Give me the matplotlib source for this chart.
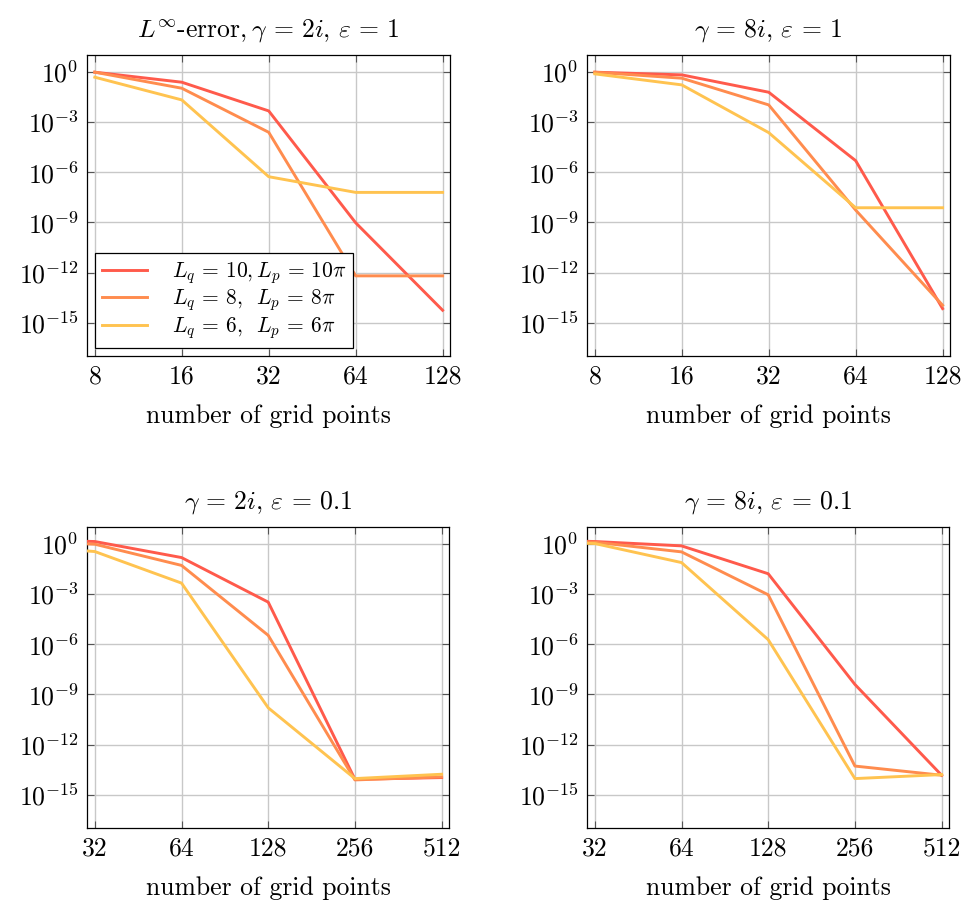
import matplotlib
matplotlib.use("Agg")
import matplotlib.pyplot as plt
from matplotlib.ticker import FixedLocator, FixedFormatter, NullLocator

plt.rcParams['font.family'] = 'serif'
plt.rcParams['font.serif'] = ['cmr10']
plt.rcParams['mathtext.fontset'] = 'cm'
plt.rcParams['axes.formatter.use_mathtext'] = True

# grid sizes
n_top = [8, 16, 32, 64, 128]
n_bot = [16, 32, 64, 128, 256, 512]

# log10 of the L-infinity error
# gamma = 2i, eps = 1
e_2i_1_L10 = [0.0, -0.6, -2.32, -9.02, -14.26]
e_2i_1_L8 = [0.0, -0.96, -3.6, -12.2, -12.2]
e_2i_1_L6 = [-0.3, -1.66, -6.26, -7.2, -7.2]
# gamma = 8i, eps = 1
e_8i_1_L10 = [0.0, -0.16, -1.2, -5.3, -14.16]
e_8i_1_L8 = [0.0, -0.36, -1.96, -8.26, -13.96]
e_8i_1_L6 = [-0.1, -0.76, -3.62, -8.12, -8.12]
# gamma = 2i, eps = 0.1
e_2i_01_L10 = [0.3, 0.16, -0.8, -3.47, -14.08, -13.98]
e_2i_01_L8 = [0.2, 0.0, -1.27, -5.46, -14.12, -13.94]
e_2i_01_L6 = [-0.05, -0.44, -2.33, -9.8, -14.04, -13.78]
# gamma = 8i, eps = 0.1
e_8i_01_L10 = [0.3, 0.16, -0.1, -1.77, -8.4, -13.84]
e_8i_01_L8 = [0.25, 0.12, -0.46, -3.03, -13.29, -13.84]
e_8i_01_L6 = [0.15, 0.04, -1.1, -5.72, -14.04, -13.8]

labels = [r'$L_q\, =\, 10, L_p\, =\, 10\pi\quad$', r'$L_q\, =\, 8,\;\; L_p\, =\, 8\pi$',
          r'$L_q\, =\, 6,\;\; L_p\, =\, 6\pi$']
colors = ['#ff5a4b', '#ff8c4e', '#ffc350']

titles = [r'$L^{\infty}$-error$, \gamma\, =\, 2i,\, \varepsilon\, =\, 1$',
          r'$\gamma\, =\, 8i,\, \varepsilon\, =\, 1$',
          r'$\gamma\, =\, 2i,\, \varepsilon\, =\, 0.1$',
          r'$\gamma\, =\, 8i,\, \varepsilon\, =\, 0.1$']

panels = [
    (n_top, [e_2i_1_L10, e_2i_1_L8, e_2i_1_L6]),
    (n_top, [e_8i_1_L10, e_8i_1_L8, e_8i_1_L6]),
    (n_bot, [e_2i_01_L10, e_2i_01_L8, e_2i_01_L6]),
    (n_bot, [e_8i_01_L10, e_8i_01_L8, e_8i_01_L6]),
]

W, H = 966, 908
boxes = [(87, 55, 450, 356), (587, 55, 950, 356),
         (87, 527, 449, 828), (587, 527, 949, 828)]

fig = plt.figure(figsize=(W / 100, H / 100), dpi=100)

yticks = [1e0, 1e-3, 1e-6, 1e-9, 1e-12, 1e-15]
ytick_labels = [r'$10^{0}$', r'$10^{-3}$', r'$10^{-6}$', r'$10^{-9}$', r'$10^{-12}$', r'$10^{-15}$']

for k, (box, (n, series)) in enumerate(zip(boxes, panels)):
    x0, y0, x1, y1 = box
    ax = fig.add_axes([x0 / W, 1 - y1 / H, (x1 - x0) / W, (y1 - y0) / H])
    for s, c, lab in zip(series, colors, labels):
        ax.plot(n, [10 ** v for v in s], color=c, lw=2.1, label=lab, zorder=3)
    ax.set_xscale('log', base=2)
    ax.set_yscale('log')
    xt = n_top if k < 2 else n_bot[1:]
    ax.set_xlim(xt[0] * 2 ** -0.09, xt[-1] * 2 ** 0.085)
    ax.set_ylim(10 ** -17.0, 10 ** 1.03)
    ax.xaxis.set_major_locator(FixedLocator(xt))
    ax.xaxis.set_major_formatter(FixedFormatter([str(v) for v in xt]))
    ax.xaxis.set_minor_locator(NullLocator())
    ax.yaxis.set_major_locator(FixedLocator(yticks))
    ax.yaxis.set_major_formatter(FixedFormatter(ytick_labels))
    ax.yaxis.set_minor_locator(NullLocator())
    ax.tick_params(direction='in', length=5, width=0.8, color='#555555',
                   top=True, right=True, labelsize=18.5, pad=6)
    ax.grid(True, color='#c8c8c8', lw=1.0, zorder=0)
    for sp in ax.spines.values():
        sp.set_linewidth(0.9)
    ax.set_title(titles[k], fontsize=18.5, pad=13)
    ax.set_xlabel('number of grid points', fontsize=18.5, labelpad=12)
    if k == 0:
        leg = ax.legend(loc='lower left', bbox_to_anchor=(0.022, 0.027), fontsize=15.5,
                        fancybox=False, framealpha=1, edgecolor='black',
                        handlelength=2.1, handletextpad=1.15, borderpad=0.32,
                        labelspacing=0.08, borderaxespad=0)
        leg.get_frame().set_linewidth(0.9)
        leg.set_zorder(5)

fig.savefig('out.png', dpi=100)
